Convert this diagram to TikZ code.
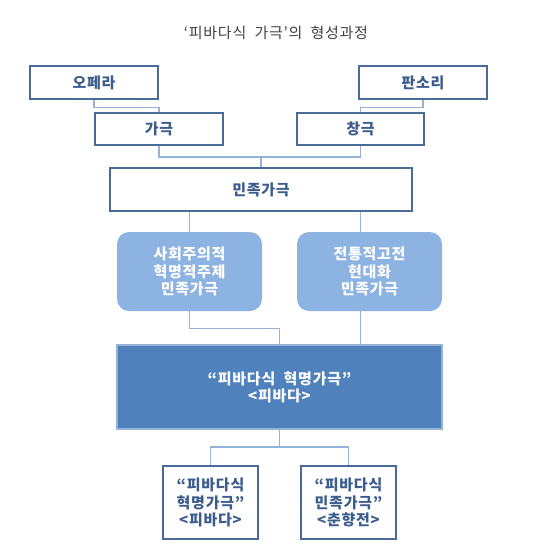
\documentclass[tikz,border=0pt]{standalone}
\usepackage{fontspec}
\setmainfont{Noto Sans CJK KR}[LetterSpace=5]
\usepackage{tikz}
\usetikzlibrary{positioning,calc}
\definecolor{framecol}{HTML}{4A6A99}
\definecolor{textcol}{HTML}{3C5C8E}
\definecolor{linkcol}{HTML}{95B3D7}
\definecolor{softfill}{HTML}{8DB3E2}
\definecolor{mainfill}{HTML}{4F81BD}
\definecolor{titlecol}{HTML}{404040}
\begin{document}
\begin{tikzpicture}[x=1pt, y=-1pt, every node/.style={font=\bfseries\fontsize{15}{17.2}\selectfont},
  plainbox/.style={draw=framecol, line width=1.6pt, fill=white, text=textcol, align=center, inner sep=0pt},
  softbox/.style={fill=softfill, rounded corners=12pt, text=white, align=center, inner sep=0pt, minimum width=145pt, minimum height=79pt},
  link/.style={draw=linkcol, line width=1.1pt}]
\useasboundingbox (0,0) rectangle (560,560);
\node[font=\fontsize{15}{17}\selectfont, text=titlecol] (title) at (276,33) {‘피바다식\ \ 가극’의\ \ 형성과정};
\node[plainbox, minimum width=128pt, minimum height=33pt] (opera) at (94,82.5) {오페라};
\node[plainbox, minimum width=128pt, minimum height=33pt] (pansori) at (423,82.5) {판소리};
\node[plainbox, minimum width=128pt, minimum height=32pt] (gaguk) at (159,129) {가극};
\node[plainbox, minimum width=127pt, minimum height=32pt] (changguk) at (360.5,129) {창극};
\node[plainbox, minimum width=302pt, minimum height=43pt] (minjok) at (261,189.5) {민족가극};
\node[softbox] (social) at (189.5,271.5) {사회주의적\\혁명적주제\\민족가극};
\node[softbox] (modern) at (369.5,271.5) {전통적고전\\현대화\\민족가극};
\node[draw=linkcol, line width=1.4pt, fill=mainfill, text=white, align=center, minimum width=325pt, minimum height=84pt] (pibada) at (279.5,387) {“피바다식\ \ 혁명가극”\\<피바다>};
\node[plainbox, minimum width=95pt, minimum height=73pt] (revol) at (210.5,502.5) {“피바다식\\혁명가극”\\<피바다>};
\node[plainbox, minimum width=95pt, minimum height=73pt] (folk) at (348.5,502.5) {“피바다식\\민족가극”\\<춘향전>};
\coordinate (j1) at (261,157);
\coordinate (j2) at (279.5,447);
% upper tree
\draw[link] (opera.south) -- ++(0,8) -| (gaguk.north);
\draw[link] (pansori.south) -- ++(0,8) -| (changguk.north);
\draw[link] (gaguk.south) |- (j1) -| (changguk.south);
\draw[link] (j1) -- (minjok.north);
% middle
\draw[link] (minjok.south -| social.north) -- (social.north);
\draw[link] (minjok.south -| changguk.south) -- (modern.north -| changguk.south);
\draw[link] (social.south) -- ++(0,17) -| (pibada.north);
\draw[link] (modern.south -| changguk.south) -- (pibada.north -| changguk.south);
% lower tree
\draw[link] (pibada.south) -- (j2);
\draw[link] (revol.north) |- (j2) -| (folk.north);
\end{tikzpicture}
\end{document}
